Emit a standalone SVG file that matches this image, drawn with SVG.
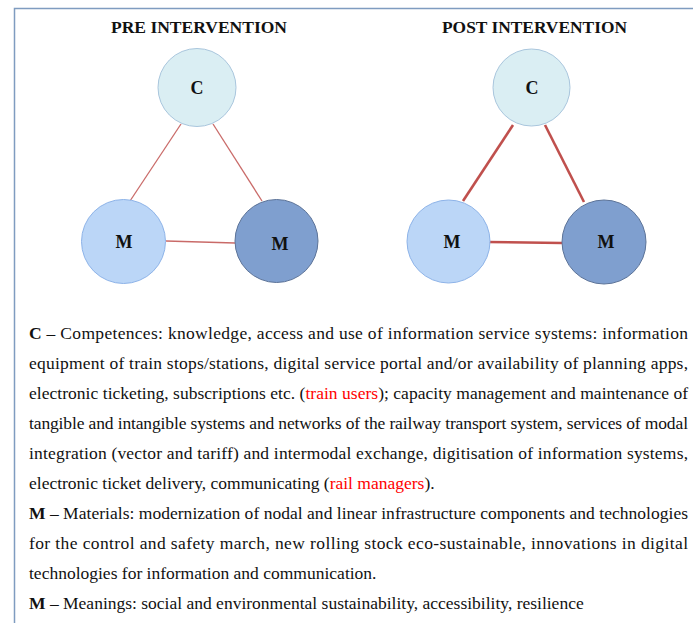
<svg xmlns="http://www.w3.org/2000/svg" width="693" height="623" viewBox="0 0 693 623">
<style>
.title{font-family:"Liberation Serif","Times New Roman",serif;font-weight:bold;font-size:17px;fill:#111;text-anchor:middle}
.lbl{font-family:"Liberation Serif","Times New Roman",serif;font-weight:bold;font-size:18px;fill:#111;text-anchor:middle}
.c{fill:#DAEEF3;stroke:#A9C6DD;stroke-width:1}
.m1{fill:#BBD6F7;stroke:#8DB3E8;stroke-width:1}
.m2{fill:#7F9FCF;stroke:#5C7398;stroke-width:1}
.thin{stroke:#C0504D;stroke-width:1.3;fill:none;opacity:0.85}
.thick{stroke:#C0504D;stroke-width:2.6;fill:none}
.t{font-family:"Liberation Serif","Times New Roman",serif;font-size:17.5px;fill:#111}
.red{fill:#FF0000}
.b{font-weight:bold}
</style>
<path d="M14.5 623 V8.5 H693" fill="none" stroke="#7F9CC0" stroke-width="1.5"/>
<text class="title" x="199" y="33" textLength="176" lengthAdjust="spacingAndGlyphs">PRE INTERVENTION</text>
<text class="title" x="534.5" y="33" textLength="185" lengthAdjust="spacingAndGlyphs">POST INTERVENTION</text>
<g id="connectors">
<line class="thin" x1="181" y1="124" x2="130" y2="201"/>
<line class="thin" x1="213" y1="124" x2="262" y2="201"/>
<line class="thin" x1="166" y1="241" x2="235" y2="243"/>
<line class="thick" x1="513" y1="125" x2="463" y2="201"/>
<line class="thick" x1="545" y1="125" x2="584" y2="202"/>
<line class="thick" x1="487" y1="242" x2="562" y2="243"/>
</g>
<g id="pre-c"><circle class="c" cx="197" cy="87.5" r="39"/><text class="lbl" x="197" y="94">C</text></g>
<g id="pre-m1"><circle class="m1" cx="123.5" cy="241.5" r="42"/><text class="lbl" x="124" y="248">M</text></g>
<g id="pre-m2"><circle class="m2" cx="276.5" cy="241" r="41.5"/><text class="lbl" x="280" y="250">M</text></g>
<g id="post-c"><circle class="c" cx="531.5" cy="87.5" r="38.5"/><text class="lbl" x="532" y="94">C</text></g>
<g id="post-m1"><circle class="m1" cx="448.5" cy="241.5" r="41.5"/><text class="lbl" x="452" y="248">M</text></g>
<g id="post-m2"><circle class="m2" cx="604" cy="242" r="42"/><text class="lbl" x="606" y="248">M</text></g>
<g id="legend">
<text class="t" x="29" y="339" textLength="659" lengthAdjust="spacing"><tspan class="b">C</tspan> – Competences: knowledge, access and use of information service systems: information</text>
<text class="t" x="29" y="369" textLength="659" lengthAdjust="spacing">equipment of train stops/stations, digital service portal and/or availability of planning apps,</text>
<text class="t" x="29" y="399" textLength="659" lengthAdjust="spacing">electronic ticketing, subscriptions etc. (<tspan class="red">train users</tspan>); capacity management and maintenance of</text>
<text class="t" x="29" y="429" textLength="659" lengthAdjust="spacing">tangible and intangible systems and networks of the railway transport system, services of modal</text>
<text class="t" x="29" y="459" textLength="659" lengthAdjust="spacing">integration (vector and tariff) and intermodal exchange, digitisation of information systems,</text>
<text class="t" x="29" y="489">electronic ticket delivery, communicating (<tspan class="red">rail managers</tspan>).</text>
<text class="t" x="29" y="519" textLength="659" lengthAdjust="spacing"><tspan class="b">M</tspan> – Materials: modernization of nodal and linear infrastructure components and technologies</text>
<text class="t" x="29" y="549" textLength="659" lengthAdjust="spacing">for the control and safety march, new rolling stock eco-sustainable, innovations in digital</text>
<text class="t" x="29" y="579">technologies for information and communication.</text>
<text class="t" x="29" y="609"><tspan class="b">M</tspan> – Meanings: social and environmental sustainability, accessibility, resilience</text>
</g>
</svg>
